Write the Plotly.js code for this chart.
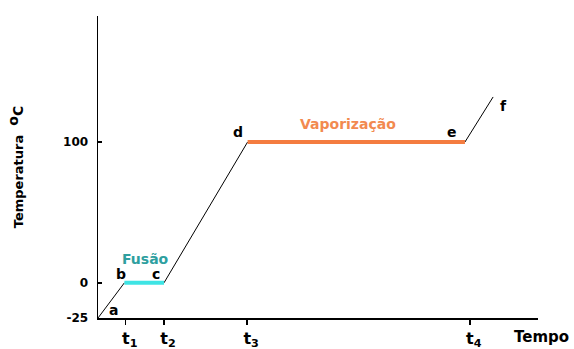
<!DOCTYPE html>
<html>
<head>
<meta charset="utf-8">
<script src="https://cdn.plot.ly/plotly-3.0.1.min.js"></script>
<style>html,body{margin:0;padding:0;background:#fff}#chart{width:574px;height:349px}</style>
</head>
<body>
<div id="chart"></div>
<script>
// Points a..f of the heating curve
const pointLabels = ['a', 'b', 'c', 'd', 'e', 'f'];
const timeValues = [0, 6, 15, 34, 83.4, 89.8];
const tempValues = [-25, 0, 0, 100, 100, 132];
// Axis ticks
const timeTickVals = [6.3, 15, 33.9, 84.5];
const timeTickText = ['t<sub>1</sub>', 't<sub>2</sub>', 't<sub>3</sub>', 't<sub>4</sub>'];
const tempTickVals = [-25, 0, 100];
const tempTickText = ['-25', '0', '100'];
// Phase change labels
const phaseNames = ['Fusão', 'Vaporização'];

const F = 'DejaVu Sans, Verdana, sans-serif';
function seg(i, j) { return { x: [timeValues[i], timeValues[j]], y: [tempValues[i], tempValues[j]] }; }

const black = [[0,1],[2,3],[4,5]].map(([i,j]) => Object.assign({
  type: 'scatter', mode: 'lines', line: { color: '#000', width: 1 }, hoverinfo: 'skip'
}, seg(i,j)));
const fus = Object.assign({ type: 'scatter', mode: 'lines', line: { color: '#3ee4e4', width: 4 } }, seg(1,2));
const vap = Object.assign({ type: 'scatter', mode: 'lines', line: { color: '#f47c40', width: 4 } }, seg(3,4));

const offs = { a: [15, 8], b: [-3, 9], c: [-8, 9], d: [-10, 10], e: [-13, 10], f: [10, -9] };
const annotations = pointLabels.map((l, i) => ({
  x: timeValues[i], y: tempValues[i], text: l, showarrow: false,
  xshift: offs[l][0], yshift: offs[l][1],
  font: { family: F, size: 14, color: '#000', weight: 'bold' }
}));
annotations.push({
  x: (timeValues[1] + timeValues[2]) / 2, y: tempValues[1], text: phaseNames[0], showarrow: false,
  xshift: 1, yshift: 24, font: { family: F, size: 14, color: '#2e9f9f', weight: 'bold' }
});
annotations.push({
  x: (timeValues[3] + timeValues[4]) / 2, y: tempValues[3], text: phaseNames[1], showarrow: false,
  xshift: -8, yshift: 18, font: { family: F, size: 14, color: '#f28a4f', weight: 'bold' }
});
annotations.push({
  xref: 'paper', yref: 'paper', x: 0.94, y: 0, yshift: -30, xanchor: 'left',
  text: 'Tempo', showarrow: false, font: { family: F, size: 15, color: '#000', weight: 'bold' }
});

const layout = {
  width: 574, height: 349,
  margin: { l: 98, r: 36, t: 16, b: 31 },
  paper_bgcolor: '#fff', plot_bgcolor: '#fff',
  showlegend: false,
  font: { family: F, color: '#000' },
  xaxis: {
    range: [0, 100], showgrid: false, zeroline: false, showline: true, linecolor: '#000', linewidth: 1.5,
    tickmode: 'array', tickvals: timeTickVals, ticktext: timeTickText,
    ticks: 'outside', ticklen: 5, tickwidth: 1.5, tickcolor: '#000',
    ticklabelshift: 4,
    tickfont: { family: F, size: 16, weight: 'bold' }, fixedrange: true
  },
  yaxis: {
    range: [-25, 189.5], showgrid: false, zeroline: false, showline: true, linecolor: '#000', linewidth: 1.5,
    tickmode: 'array', tickvals: tempTickVals, ticktext: tempTickText,
    ticks: 'inside', ticklen: 4, tickwidth: 1.5, tickcolor: '#000',
    ticklabelstandoff: 6,
    tickfont: { family: F, size: 12, weight: 'bold' }, fixedrange: true,
    title: { text: 'Temperatura  <sup><span style="font-size:14px">o</span></sup><span style="font-size:14px">C</span>', font: { family: F, size: 13, weight: 'bold' }, standoff: 36 }
  },
  annotations: annotations
};

Plotly.newPlot('chart', [...black, fus, vap], layout, { displayModeBar: false, staticPlot: true });
</script>
</body>
</html>
